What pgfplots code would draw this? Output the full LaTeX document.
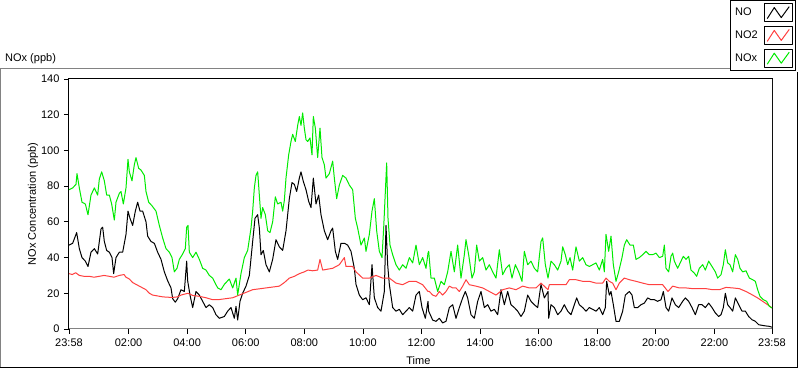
\documentclass[border=0pt]{standalone}
\usepackage{fontspec}
\setmainfont{Liberation Sans}
\usepackage{pgfplots}
\pgfplotsset{compat=1.18}
\definecolor{nogreen}{RGB}{0,235,0}
\definecolor{nored}{RGB}{255,64,64}
\definecolor{framegray}{RGB}{130,130,130}
\begin{document}
\begin{tikzpicture}[x=1pt,y=1pt]
\useasboundingbox (0,0) rectangle (800,369);
\fill[white] (0,0) rectangle (800,369);
% outer frame
\draw[framegray,line width=1pt] (0.5,1) -- (0.5,300) -- (731,300);
\draw[black,line width=1pt] (0,1) -- (797.5,1) -- (797.5,297);
\node[anchor=west,font=\fontsize{11}{13}\selectfont,inner sep=0pt] at (5,310) {NOx (ppb)};
\begin{axis}[
  at={(69pt,40pt)}, anchor=south west,
  scale only axis, width=703pt, height=250pt,
  xmin=0, xmax=2109, ymin=0, ymax=140,
  ytick={0,20,...,140},
  xtick={0,178.7,354.4,530.2,705.9,881.7,1057.4,1233.2,1408.9,1584.7,1760.4,1936.2,2109},
  xticklabels={23:58,02:00,04:00,06:00,08:00,10:00,12:00,14:00,16:00,18:00,20:00,22:00,23:58},
  minor x tick num=9,
  tick align=outside, tick pos=left,
  major tick length=5pt, minor tick length=3pt,
  every tick/.style={black,line width=0.8pt},
  axis line style={black,line width=1pt},
  /pgf/number format/assume math mode=true,
  ticklabel style={font=\fontsize{11}{13}\selectfont},
  xticklabel style={yshift=-1pt},
  yticklabel style={xshift=-1pt},
  xlabel={Time},
  xlabel style={at={(axis description cs:0.497,0)},anchor=center,yshift=-32pt,font=\fontsize{11}{13}\selectfont},
  ylabel={NOx Concentration (ppb)},
  ylabel style={at={(axis description cs:-0.051,0.5)},anchor=center,font=\fontsize{11}{13}\selectfont,text=black},
  legend plot pos=right,
  legend cell align=left,
  legend style={at={(rel axis cs:0.9403,1.316)},anchor=north west,draw=black,fill=white,
    font=\fontsize{11}{13}\selectfont,row sep=4pt,inner sep=3pt,
    /tikz/every odd column/.append style={column sep=4pt}},
  legend image code/.code={%
    \draw[black,line width=0.8pt] (0pt,-9pt) rectangle (28pt,9pt);
    \draw[#1] (3pt,-6pt) -- (10pt,5pt) -- (17pt,-5pt) -- (25pt,6pt);},
  every axis plot/.append style={line width=1pt,line join=round},
]
% NO
\addplot[black] table {
0 47
11 48
23 54
31 45
39 40
49 38
57 35
66 43
76 45
86 42
96 56
101 57
106 49
113 44
121 43
129 40
134 31
141 40
151 43
161 43
171 53
177 66
183 62
191 58
199 66
206 71
213 66
221 66
231 60
236 52
246 49
256 48
266 43
276 39
286 32
296 27
306 23
311 17
319 15
326 17
336 22
346 21
353 38
356 27
363 19
371 12
381 21
391 19
401 15.5
411 12
421 13.6
431 12
441 8
451 6
466 7
476 10
486 12
496 6
501 12.7
506 5
513 15.5
521 20
531 24
541 30
551 49
558 62
566 64
571 56.5
576 41.6
583 44
591 36
601 32
611 39
621 50
631 46
641 44
651 55
661 73
669 82
676 81
683 77
691 84.5
696 88
703 82.6
711 78
719 71.5
726 68
733 84.5
741 70
749 75
756 64
766 55
776 50
786 55
791 56.5
799 43.5
806 39
816 48
826 48
836 47
846 43.5
856 34
861 25
871 19
881 16.4
891 17.5
901 13.6
909 36
916 17.5
926 12
936 10
946 21
951 58
956 36
961 25
971 12
981 10
991 11
1001 8
1011 10
1021 12
1031 10
1041 19
1051 21
1059 12
1069 6
1077 15.5
1079 10
1091 5
1101 4.3
1111 6
1121 3.4
1131 4.3
1141 12
1151 13.6
1161 6
1171 12
1181 17.4
1189 21
1196 17.4
1206 8
1216 6
1226 15.5
1236 21
1246 12
1256 13.6
1266 10
1276 11
1286 8
1296 22
1306 13.6
1316 21
1326 13.6
1336 12
1346 10
1356 7
1366 10
1376 19
1386 15.5
1396 13.6
1406 12
1416 25
1426 17.4
1437 21
1439 6
1446 13.6
1456 12
1466 8
1476 10
1486 13.6
1496 10
1506 8
1516 13.6
1523 17.4
1531 13.6
1541 12
1551 10
1561 12
1571 11
1581 10
1591 12
1601 8
1609 12
1613 26.7
1621 19
1626 21
1633 13.6
1641 4.3
1651 4.3
1661 10
1669 19
1681 21
1689 19
1696 12
1706 12
1716 13.6
1726 14.5
1736 17.4
1746 16.4
1756 16.4
1766 15.5
1776 16.4
1783 21
1791 12
1799 10
1809 17.4
1819 13.6
1829 12
1841 15.5
1849 17.4
1859 15.5
1869 12
1879 8
1889 13.6
1899 13.6
1909 12
1919 14.5
1929 12
1939 9
1949 7
1956 8
1963 12
1969 20
1976 13.6
1983 12
1991 10
1999 17.4
2009 13.6
2019 10
2029 10
2039 7
2049 5.2
2059 4.3
2069 2.4
2081 2
2091 1.7
2101 1.5
2109 1
};
\addlegendentry{NO}
% NO2
\addplot[nored] table {
0 31
10 30.5
20 31.5
31 30
45 29.5
61 29.5
75 29
91 29.5
105 30
121 29.5
135 29
151 30
165 30.5
171 29
181 28
191 26
201 25
211 24
221 23
231 22
241 20
251 19
266 18.5
281 18
296 17.8
311 17.7
326 18
336 19
346 19.5
357 20
371 18.8
391 18.3
411 17.5
431 16.4
451 16.5
471 17
491 17.5
511 19
531 20.5
551 22
571 22.5
591 23
611 23.5
631 24
646 26
661 28.5
676 29.5
691 31
706 32
717 33
731 32.6
746 33
753 39
761 33
776 33.5
791 34
811 36
826 40
831 35
851 35
861 32
881 28.5
901 28.5
921 30
941 28.5
961 28.5
981 25.7
1001 24.8
1021 26.7
1041 26.7
1061 24.8
1077 21
1081 21
1091 19
1101 18.3
1111 21
1121 19
1131 21
1141 24
1151 23
1161 23
1171 21
1181 24
1191 27.6
1201 24.8
1221 24
1241 23
1261 21
1281 19
1301 22
1321 23
1341 22
1361 24
1381 23
1401 23
1416 25.7
1437 22
1441 24.8
1451 24.8
1471 24.8
1491 24.8
1501 27.6
1521 27.6
1541 26.7
1561 26.7
1581 25.7
1601 25.7
1611 28.5
1621 26.7
1631 25.7
1641 22
1651 25.7
1666 28.5
1681 27.6
1701 26.7
1721 25.7
1741 24.8
1761 24.8
1781 24.8
1797 21
1811 24
1831 23
1851 23
1871 22.6
1891 22.6
1911 22.6
1931 22
1951 22
1971 23.3
1991 23
2011 22.6
2031 21
2051 19
2066 17.4
2081 15.5
2096 13.6
2109 11.8
};
\addlegendentry{NO2}
% NOx
\addplot[nogreen] table {
0 78
11 79
21 81
24 87
31 79
39 71
49 70
57 64
66 75
76 79
86 75
91 84
98 88
106 83
113 75
121 75
128 70
136 61
141 71
151 76
156 77
163 70
171 79
177 95
181 88
189 83
196 92
201 96
209 90
216 89
226 86
231 77
239 71
249 69
261 66
271 58
281 51
291 45
301 43
309 40
316 32
324 34
331 39
341 42
349 45
353 57
357 58
361 43
371 40
381 43
391 39
401 34
411 33
421 30
431 28.5
446 23
456 22
466 25
481 28
491 23
501 28.5
506 19
516 31
526 40
536 44
546 56.5
551 66
556 79
561 86
566 88
571 75
576 62
581 68
589 64
596 55
603 54
611 60
619 74
626 70
636 71
641 66
646 72
651 84.5
659 97.5
666 105
671 109
679 105
686 114
691 119
696 114
701 121
706 112.5
711 106
716 105
723 107
729 97.5
733 119
739 112.5
746 96
753 112.5
759 96
766 92
771 84.5
781 87
791 94
796 84.5
803 73
811 80.6
821 86
831 84.5
841 80.6
851 78
859 62
866 56.5
876 47
886 51
891 43.5
901 53
909 66
916 73
923 55
931 43.5
939 40
944 56.5
953 93
957 62
963 47
971 41.6
981 36
991 33
1001 36
1011 34
1021 40
1031 37
1041 47
1051 36
1061 40
1071 34
1077 42.5
1079 43.5
1086 28.5
1096 28.5
1106 21
1116 26.7
1126 24.8
1136 32
1146 43.5
1156 32
1166 47
1176 28.5
1186 41.6
1191 50
1199 41.6
1209 28.5
1216 32
1223 47
1231 38
1241 40
1251 33
1261 36
1271 32
1281 28.5
1291 44.4
1301 30.4
1311 34
1321 36
1329 28.5
1339 36
1349 32
1359 26.7
1366 43.5
1376 36
1386 38
1396 34
1406 32
1416 49
1421 51
1429 36
1437 28.5
1446 38
1456 36
1466 33
1476 38
1481 46
1489 41.6
1496 36
1503 40
1511 33
1521 46
1531 38
1541 40
1551 36
1561 35
1571 36
1581 37
1591 33
1601 39
1606 32
1611 53
1619 43.5
1626 52
1633 36
1641 26.7
1649 32
1659 40
1666 47
1673 50
1683 47
1693 47
1701 39
1711 40
1721 41.6
1731 43.5
1741 41.6
1751 41.6
1761 42.5
1771 40
1781 40.7
1786 47
1791 34
1799 32
1806 40.7
1811 42.5
1816 38
1826 34
1836 38
1843 40.7
1851 39
1859 40.7
1866 33
1876 31.3
1883 29.5
1891 34
1901 36
1909 33
1919 38
1929 35
1939 32
1946 28.5
1956 30.4
1963 36
1969 44.4
1976 37
1983 36
1991 32
1999 41.6
2006 39
2013 34
2021 32
2031 32.6
2041 28.5
2051 27.6
2059 26.7
2066 22
2073 18.3
2083 16.4
2093 15.5
2101 12.7
2109 11.8
};
\addlegendentry{NOx}
\draw[framegray,line width=1pt] (rel axis cs:0,0) -- (rel axis cs:1,0) -- (rel axis cs:1,1);
\end{axis}
\end{tikzpicture}
\end{document}
